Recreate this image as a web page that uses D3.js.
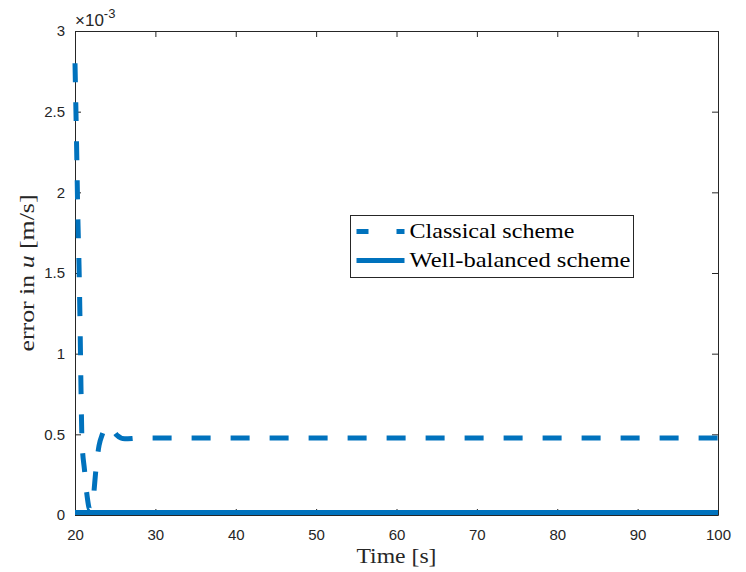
<!DOCTYPE html>
<html>
<head>
<meta charset="utf-8">
<script src="https://cdn.jsdelivr.net/npm/d3@7"></script>
<style>
  body { margin: 0; background: #fff; }
  svg { display: block; }
</style>
</head>
<body>
<div id="chart"></div>
<script>
// time (s) and error (x 1e-3 m/s)
const classicalTime = [20, 20.19, 20.37, 20.5, 20.62, 20.75, 20.87, 21.18, 21.5, 21.87, 22.24, 22.6, 22.99, 23.4, 23.9, 24.3, 24.7, 25.2, 26.2, 28, 30, 40, 50, 60, 70, 80, 90, 100];
const classicalErr  = [2.80, 2.31, 1.81, 1.55, 1.21, 0.77, 0.46, 0.28, 0.12, 0.03, 0.09, 0.28, 0.43, 0.50, 0.545, 0.55, 0.53, 0.495, 0.472, 0.477, 0.477, 0.477, 0.477, 0.477, 0.477, 0.477, 0.477, 0.477];
const balancedTime  = [20, 30, 40, 50, 60, 70, 80, 90, 100];
const balancedErr   = [0.015, 0.015, 0.015, 0.015, 0.015, 0.015, 0.015, 0.015, 0.015];
const xTicks = [20, 30, 40, 50, 60, 70, 80, 90, 100];
const yTicks = [0, 0.5, 1, 1.5, 2, 2.5, 3];
const seriesNames = ["Classical scheme", "Well-balanced scheme"];
const legendWidths = [165, 221];

const W = 746, H = 572;
const margin = { top: 31, right: 28, bottom: 57, left: 75 };
const width = W - margin.left - margin.right;
const height = H - margin.top - margin.bottom;
const blue = "#0072BD", axisCol = "#262626";

const svg = d3.select("#chart").append("svg")
    .attr("width", W).attr("height", H);
const g = svg.append("g")
    .attr("transform", `translate(${margin.left},${margin.top})`);

const x = d3.scaleLinear().domain([20, 100]).range([0, width]);
const y = d3.scaleLinear().domain([0, 3]).range([height, 0]);

const tickFont = "Liberation Sans, Arial, sans-serif";
const serif = "Liberation Serif, Times New Roman, serif";

// axes (MATLAB style: inward ticks, box on)
function styleAxis(sel) {
    sel.select(".domain").attr("stroke", axisCol).attr("stroke-width", 1);
    sel.selectAll(".tick line").attr("stroke", axisCol).attr("stroke-width", 1);
    sel.selectAll(".tick text").attr("fill", axisCol)
        .style("font-family", tickFont).style("font-size", "15px");
}
const xAxis = g.append("g").attr("transform", `translate(0,${height})`)
    .call(d3.axisBottom(x).tickValues(xTicks).tickSizeInner(-6).tickSizeOuter(0).tickPadding(14));
styleAxis(xAxis);
const yAxis = g.append("g")
    .call(d3.axisLeft(y).tickValues(yTicks).tickFormat(d3.format("")).tickSizeInner(-6).tickSizeOuter(0).tickPadding(10));
styleAxis(yAxis);
const xTop = g.append("g")
    .call(d3.axisTop(x).tickValues(xTicks).tickSizeInner(-6).tickSizeOuter(0).tickFormat(""));
styleAxis(xTop);
const yRight = g.append("g").attr("transform", `translate(${width},0)`)
    .call(d3.axisRight(y).tickValues(yTicks).tickSizeInner(-6).tickSizeOuter(0).tickFormat(""));
styleAxis(yRight);

// exponent label
const expo = g.append("text").attr("x", 0).attr("y", -5)
    .attr("fill", axisCol).style("font-family", tickFont).style("font-size", "17px");
expo.append("tspan").text("\u00d710");
expo.append("tspan").attr("dy", -8).style("font-size", "13px").text("-3");

// lines
const line = d3.line().x(d => x(d[0])).y(d => y(d[1])).curve(d3.curveMonotoneX);
const classical = classicalTime.map((t, i) => [t, classicalErr[i]]);
const balanced = balancedTime.map((t, i) => [t, balancedErr[i]]);

g.append("path").datum(classical)
    .attr("d", line).attr("fill", "none")
    .attr("stroke", blue).attr("stroke-width", 5)
    .attr("stroke-dasharray", "19,20");
g.append("path").datum(balanced)
    .attr("d", line).attr("fill", "none")
    .attr("stroke", blue).attr("stroke-width", 5);

// axis labels
g.append("text").attr("x", width / 2).attr("y", height + 48)
    .attr("text-anchor", "middle").attr("fill", axisCol)
    .style("font-family", serif).style("font-size", "21px")
    .attr("textLength", 80).attr("lengthAdjust", "spacingAndGlyphs")
    .text("Time [s]");
const yl = g.append("text")
    .attr("transform", `translate(-41,${height / 2}) rotate(-90)`)
    .attr("text-anchor", "middle").attr("fill", axisCol)
    .style("font-family", serif).style("font-size", "21px")
    .attr("textLength", 157).attr("lengthAdjust", "spacingAndGlyphs");
yl.append("tspan").text("error in ");
yl.append("tspan").style("font-style", "italic").text("u");
yl.append("tspan").text(" [m/s]");

// legend
const leg = g.append("g").attr("transform", `translate(${350.5 - margin.left},${215.5 - margin.top})`);
leg.append("rect").attr("width", 283).attr("height", 62)
    .attr("fill", "#fff").attr("stroke", axisCol).attr("stroke-width", 1);
seriesNames.forEach((name, i) => {
    const ly = 16 + i * 29;
    leg.append("line").attr("x1", 6).attr("x2", 54).attr("y1", ly).attr("y2", ly)
        .attr("stroke", blue).attr("stroke-width", 5)
        .attr("stroke-dasharray", i === 0 ? "12,28,8" : null);
    leg.append("text").attr("x", 59).attr("y", ly + 6)
        .attr("fill", "#000")
        .style("font-family", serif).style("font-size", "21px")
        .attr("textLength", legendWidths[i]).attr("lengthAdjust", "spacingAndGlyphs")
        .text(name);
});
</script>
</body>
</html>
